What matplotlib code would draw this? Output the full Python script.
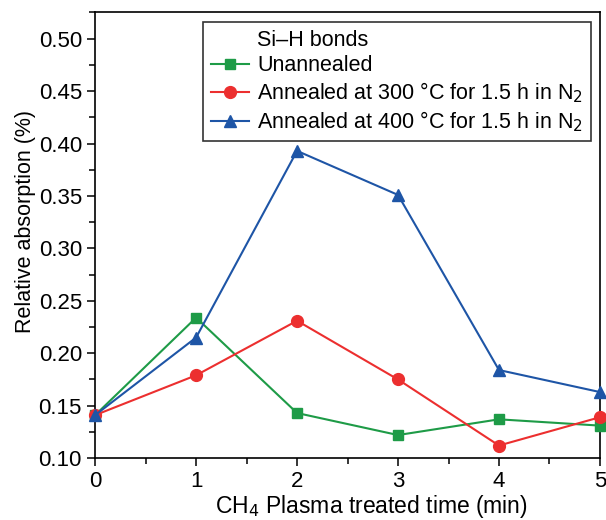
import matplotlib.pyplot as plt
from matplotlib.lines import Line2D
from matplotlib.ticker import MultipleLocator

plt.rcParams['font.family'] = ['Liberation Sans', 'DejaVu Sans']

time_min = [0, 1, 2, 3, 4, 5]
unannealed = [0.141, 0.234, 0.143, 0.122, 0.137, 0.131]
annealed_300 = [0.141, 0.179, 0.231, 0.175, 0.112, 0.139]
annealed_400 = [0.141, 0.215, 0.393, 0.351, 0.184, 0.163]

labels = ["Unannealed",
          "Annealed at 300 °C for 1.5 h in N$_2$",
          "Annealed at 400 °C for 1.5 h in N$_2$"]

fig = plt.figure(figsize=(6.06, 5.2), dpi=100)
ax = fig.add_axes([0.157, 0.119, 0.833, 0.857])

ax.plot(time_min, unannealed, marker="s", color="#1e9b47", lw=1.5, ms=7.5,
        label=labels[0], clip_on=False, zorder=3)
ax.plot(time_min, annealed_300, marker="o", color="#ec2f2f", lw=1.5, ms=8.5,
        label=labels[1], clip_on=False, zorder=3)
ax.plot(time_min, annealed_400, marker="^", color="#1e55a6", lw=1.5, ms=8.5,
        label=labels[2], clip_on=False, zorder=4)

ax.set_xlim(0, 5)
ax.set_ylim(0.10, 0.525)
ax.xaxis.set_major_locator(MultipleLocator(1))
ax.xaxis.set_minor_locator(MultipleLocator(0.5))
ax.yaxis.set_major_locator(MultipleLocator(0.05))
ax.yaxis.set_minor_locator(MultipleLocator(0.025))
ax.yaxis.set_major_formatter(plt.FormatStrFormatter("%.2f"))
ax.tick_params(which="both", direction="out", labelsize=16, width=1.1)
ax.tick_params(which="major", length=6)
ax.tick_params(which="minor", length=4)
for s in ax.spines.values():
    s.set_linewidth(1.2)

ax.set_xlabel("CH$_4$ Plasma treated time (min)", fontsize=16.5)
ax.xaxis.set_label_coords(0.547, -0.078)
ax.set_ylabel("Relative absorption (%)", fontsize=15.5, labelpad=2)
ax.yaxis.label.set_y(0.53)

handles, lbls = ax.get_legend_handles_labels()
blank = Line2D([], [], linestyle="none")
leg = ax.legend([blank] + handles, ["Si–H bonds"] + lbls, loc="upper right",
                bbox_to_anchor=(0.982, 0.978), borderaxespad=0,
                fontsize=15.5, frameon=True,
                fancybox=False, edgecolor="black", handlelength=1.75,
                handletextpad=0.4, labelspacing=0.2, borderpad=0.35)
leg.get_frame().set_linewidth(1.2)

fig.savefig("out.png", dpi=100)
